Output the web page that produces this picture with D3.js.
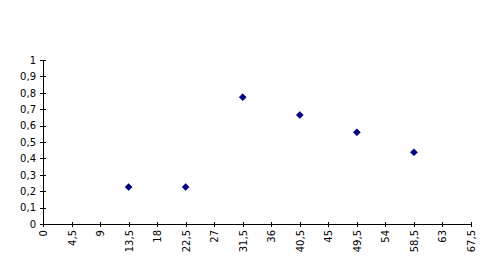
<!DOCTYPE html>
<html>
<head>
<meta charset="utf-8">
<script src="https://cdn.jsdelivr.net/npm/d3@7"></script>
<style>
  body { margin: 0; background: #fff; }
  .axis text { font-family: "DejaVu Sans", sans-serif; font-size: 10px; fill: #000; }
  .axis path, .axis line { stroke: #000; }
</style>
</head>
<body>
<div id="chart"></div>
<script>
const xVals = [13.5, 22.5, 31.5, 40.5, 49.5, 58.5];
const yVals = [0.225, 0.225, 0.773, 0.665, 0.559, 0.437];
const xTicks = [0, 4.5, 9, 13.5, 18, 22.5, 27, 31.5, 36, 40.5, 45, 49.5, 54, 58.5, 63, 67.5];
const yTicks = [0, 0.1, 0.2, 0.3, 0.4, 0.5, 0.6, 0.7, 0.8, 0.9, 1];

const width = 499;
const height = 274;
const margin = { top: 60, right: 28, bottom: 50, left: 43 };

const svg = d3.select("#chart").append("svg")
  .attr("width", width)
  .attr("height", height);

const x = d3.scaleLinear().domain([0, 67.5]).range([margin.left, width - margin.right]);
const y = d3.scaleLinear().domain([0, 1]).range([height - margin.bottom, margin.top]);

const fmt = (d) => String(d).replace(".", ",");

const yAxis = svg.append("g")
  .attr("class", "axis")
  .attr("transform", `translate(${margin.left},0)`)
  .call(d3.axisLeft(y).tickValues(yTicks).tickFormat(fmt).tickSizeInner(3).tickSizeOuter(0).tickPadding(4));
yAxis.select(".domain").attr("shape-rendering", "crispEdges");
yAxis.selectAll(".tick line").attr("x1", -3).attr("x2", 3).attr("shape-rendering", "crispEdges");

const xAxis = svg.append("g")
  .attr("class", "axis")
  .attr("transform", `translate(0,${height - margin.bottom})`)
  .call(d3.axisBottom(x).tickValues(xTicks).tickFormat(fmt).tickSizeInner(2).tickSizeOuter(0));
xAxis.select(".domain").attr("shape-rendering", "crispEdges");
xAxis.selectAll(".tick line").attr("y1", -2).attr("y2", 3).attr("shape-rendering", "crispEdges");
xAxis.selectAll(".tick text")
  .attr("transform", "rotate(-90)")
  .attr("x", -6)
  .attr("y", 0)
  .attr("dy", "0.35em")
  .style("text-anchor", "end");

const points = xVals.map((d, i) => ({ x: d, y: yVals[i] }));

// small navy diamonds
svg.append("g")
  .selectAll("path")
  .data(points)
  .join("path")
  .attr("transform", (d) => `translate(${x(d.x)},${y(d.y)})`)
  .attr("d", "M0,-3.5L3.5,0L0,3.5L-3.5,0Z")
  .attr("fill", "#000080")
  .attr("stroke", "#000080")
  .attr("stroke-width", 0.6);
</script>
</body>
</html>
